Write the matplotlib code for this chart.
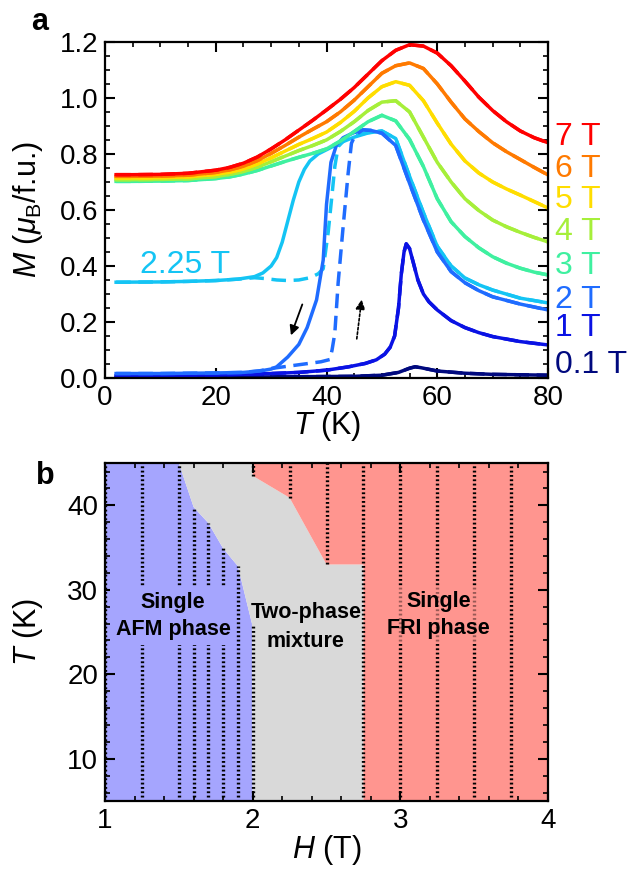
import numpy as np
import matplotlib
matplotlib.use('Agg')
import matplotlib.pyplot as plt

plt.rcParams['font.family'] = 'Liberation Sans'
plt.rcParams['mathtext.fontset'] = 'custom'
plt.rcParams['mathtext.rm'] = 'Liberation Sans'
plt.rcParams['mathtext.it'] = 'Liberation Sans:italic'
plt.rcParams['mathtext.bf'] = 'Liberation Sans:bold'

# ---- panel a: M(T) at fixed fields (solid / dashed branches) ----
T_hi = [2, 5, 10, 15, 20, 22.5, 25, 27.5, 30, 32.5, 35, 37.5, 40, 42.5, 45, 47.5, 50, 52.5, 55, 57.5,
        60, 62.5, 65, 67.5, 70, 72.5, 75, 77.5, 80]
M_7T = [0.726, 0.726, 0.727, 0.731, 0.742, 0.752, 0.767, 0.789, 0.818, 0.850, 0.885, 0.920, 0.957, 0.995,
        1.037, 1.085, 1.133, 1.170, 1.190, 1.185, 1.160, 1.115, 1.060, 1.003, 0.955, 0.915, 0.882, 0.858, 0.840]
M_6T = [0.720, 0.720, 0.721, 0.724, 0.734, 0.743, 0.756, 0.776, 0.802, 0.830, 0.860, 0.888, 0.915, 0.950,
        0.992, 1.040, 1.088, 1.115, 1.125, 1.105, 1.050, 0.985, 0.925, 0.880, 0.840, 0.808, 0.780, 0.752, 0.725]
M_5T = [0.714, 0.714, 0.715, 0.718, 0.727, 0.735, 0.746, 0.764, 0.786, 0.810, 0.834, 0.855, 0.878, 0.912,
        0.952, 1.000, 1.040, 1.058, 1.045, 0.990, 0.910, 0.835, 0.775, 0.732, 0.700, 0.675, 0.653, 0.630, 0.607]
M_4T = [0.708, 0.708, 0.709, 0.711, 0.719, 0.727, 0.737, 0.753, 0.772, 0.792, 0.812, 0.830, 0.850, 0.880,
        0.915, 0.955, 0.985, 0.990, 0.950, 0.860, 0.770, 0.700, 0.640, 0.598, 0.564, 0.540, 0.520, 0.502, 0.486]
M_3T = [0.702, 0.702, 0.703, 0.705, 0.712, 0.718, 0.728, 0.741, 0.757, 0.773, 0.788, 0.802, 0.818, 0.846,
        0.880, 0.915, 0.938, 0.918, 0.852, 0.755, 0.640, 0.558, 0.505, 0.465, 0.433, 0.410, 0.392, 0.378, 0.368]

T_225s = [2, 10, 15, 20, 24, 27, 28.5, 30, 31, 32, 33, 34, 35, 36, 37, 38.5, 40, 42.5, 45, 47.5, 50, 52.5,
          55, 57.5, 60, 62.5, 65, 67.5, 70, 75, 80]
M_225s = [0.342, 0.343, 0.345, 0.348, 0.353, 0.362, 0.375, 0.400, 0.430, 0.485, 0.560, 0.635, 0.700, 0.745,
          0.775, 0.800, 0.815, 0.840, 0.860, 0.875, 0.882, 0.855, 0.720, 0.590, 0.470, 0.400, 0.357, 0.333,
          0.314, 0.285, 0.268]
T_225d = [2, 10, 15, 20, 24, 27, 29, 31, 33, 35, 37, 38.5, 39.4, 40.3, 40.9, 41.5, 42.1, 43.5, 45, 47.5, 50,
          52.5, 55, 57.5, 60, 62.5, 65, 67.5, 70, 75, 80]
M_225d = [0.342, 0.343, 0.345, 0.348, 0.353, 0.358, 0.355, 0.350, 0.348, 0.350, 0.358, 0.372, 0.390, 0.520,
          0.636, 0.755, 0.826, 0.855, 0.865, 0.876, 0.882, 0.855, 0.720, 0.590, 0.470, 0.400, 0.357, 0.333,
          0.314, 0.285, 0.268]

T_2s = [2, 10, 20, 25, 28, 30, 31, 33, 35, 36.5, 38.2, 39.4, 40.0, 40.8, 41.8, 43, 44.8, 46.6, 48, 50, 52.5,
        55, 57.5, 60, 62.5, 65, 67.5, 70, 75, 80]
M_2s = [0.016, 0.016, 0.018, 0.020, 0.025, 0.032, 0.040, 0.075, 0.120, 0.180, 0.279, 0.421, 0.620, 0.770,
        0.832, 0.858, 0.875, 0.886, 0.884, 0.874, 0.830, 0.695, 0.564, 0.450, 0.380, 0.340, 0.312, 0.290,
        0.264, 0.243]
T_2d = [2, 10, 20, 25, 28, 30, 33, 36, 39, 40.6, 41.0, 41.5, 42.1, 43.0, 43.9, 44.5, 45.2, 46.6, 48, 50, 52.5,
        55, 57.5, 60, 62.5, 65, 67.5, 70, 75, 80]
M_2d = [0.016, 0.016, 0.018, 0.020, 0.026, 0.034, 0.042, 0.050, 0.058, 0.066, 0.100, 0.160, 0.340, 0.540,
        0.730, 0.838, 0.868, 0.886, 0.884, 0.874, 0.830, 0.695, 0.564, 0.450, 0.380, 0.340, 0.312, 0.290,
        0.264, 0.243]

T_1T = [2, 10, 20, 30, 35, 40, 44, 47, 49, 50.5, 51.5, 52.3, 53.0, 53.5, 54.0, 54.4, 55.0, 55.7, 56.5, 57.5,
        58.5, 60, 62.5, 65, 67.5, 70, 75, 80]
M_1T = [0.008, 0.009, 0.011, 0.016, 0.020, 0.028, 0.040, 0.052, 0.065, 0.085, 0.110, 0.150, 0.250, 0.370,
        0.450, 0.479, 0.462, 0.410, 0.350, 0.300, 0.272, 0.243, 0.205, 0.180, 0.162, 0.148, 0.130, 0.118]

T_01T = [2, 30, 45, 50, 53, 55, 56, 57, 60, 65, 70, 80]
M_01T = [0.003, 0.004, 0.006, 0.010, 0.020, 0.035, 0.040, 0.037, 0.025, 0.017, 0.013, 0.010]

field_labels = ['7 T', '6 T', '5 T', '4 T', '3 T', '2 T', '1 T', '0.1 T']
label_M = [0.86, 0.745, 0.635, 0.52, 0.40, 0.28, 0.18, 0.047]
c7, c6, c5, c4, c3 = '#ff0000', '#ff7a00', '#ffdd00', '#a6ef3a', '#3ff0a0'
c225, c2, c1, c01 = '#14c4f4', '#1f6cff', '#0a12e4', '#00097e'
label_colors = [c7, c6, c5, c4, c3, c2, c1, c01]

# ---- panel b: H-T phase diagram ----
afm_H = [1.5, 1.6, 1.7, 1.8, 1.9, 1.995, 2.0]
afm_T = [45, 39.8, 37.9, 34.9, 32.8, 26.0, 5]
fri_H = [2.0, 2.0, 2.25, 2.5, 2.75, 2.75]
fri_T = [45, 43.5, 40.9, 33.0, 33.0, 5]
meas_H = [1.0, 1.25, 1.5, 1.6, 1.7, 1.8, 1.9, 2.0, 2.0, 2.25, 2.5, 2.75, 3.0, 3.25, 3.5, 3.75]
meas_Tlo = [5.5, 5.5, 5.5, 5.5, 5.5, 5.5, 5.5, 5.5, 43.5, 40.9, 33.0, 5.5, 5.5, 5.5, 5.5, 5.5]
meas_Thi = [45, 45, 45, 39.8, 37.9, 34.9, 32.8, 26.0, 45, 45, 45, 45, 45, 45, 45, 45]
col_afm, col_mix, col_fri = '#a5a5fe', '#d9d9d9', '#ff958f'

fig = plt.figure(figsize=(6.35, 8.73), dpi=100)
ax1 = fig.add_axes([0.1654, 0.567, 0.6976, 0.385])
ax2 = fig.add_axes([0.1654, 0.0825, 0.6976, 0.387])

lw = 2.5
dash = (0, (4.2, 2.2))
ax1.plot(T_01T, M_01T, color=c01, lw=lw)
ax1.plot(T_01T, M_01T, color=c01, lw=lw, ls=dash)
ax1.plot(T_1T, M_1T, color=c1, lw=lw)
ax1.plot(T_1T, M_1T, color=c1, lw=lw, ls=dash)
ax1.plot(T_225s, M_225s, color=c225, lw=lw)
ax1.plot(T_225d, M_225d, color=c225, lw=lw, ls=dash)
ax1.plot(T_2s, M_2s, color=c2, lw=lw)
ax1.plot(T_2d, M_2d, color=c2, lw=lw, ls=dash)
for M, c in zip([M_3T, M_4T, M_5T, M_6T, M_7T], [c3, c4, c5, c6, c7]):
    ax1.plot(T_hi, M, color=c, lw=lw)
    ax1.plot(T_hi, M, color=c, lw=lw, ls=dash)

ax1.annotate('', xy=(33.4, 0.143), xytext=(35.8, 0.272),
             arrowprops=dict(arrowstyle='-|>', color='k', lw=1.3, mutation_scale=14))
ax1.annotate('', xy=(46.4, 0.290), xytext=(45.4, 0.130),
             arrowprops=dict(arrowstyle='-|>', color='k', lw=1.2, ls=(0, (1.5, 1.2)), mutation_scale=14))

ax1.text(6.3, 0.375, '2.25 T', color=c225, fontsize=23, va='baseline')
for s, m, c in zip(field_labels, label_M, label_colors):
    ax1.text(81.2, m, s, color=c, fontsize=23, va='center', ha='left', clip_on=False)

ax1.set_xlim(0, 80)
ax1.set_ylim(0, 1.2)
ax1.set_xticks([0, 20, 40, 60, 80])
ax1.set_xticks(np.arange(0, 81, 5), minor=True)
ax1.set_yticks([0.0, 0.2, 0.4, 0.6, 0.8, 1.0, 1.2])
ax1.set_yticklabels(['0.0', '0.2', '0.4', '0.6', '0.8', '1.0', '1.2'])
ax1.set_yticks(np.arange(0, 1.21, 0.05), minor=True)
ax1.set_xlabel(r'$T$ (K)', fontsize=22)
ax1.set_ylabel(r'$M$ ($\mu_\mathrm{B}$/f.u.)', fontsize=22)
ax1.xaxis.set_label_coords(0.5, -0.092)
ax1.yaxis.set_label_coords(-0.135, 0.5)

# phase regions
ax2.fill([1] + afm_H + [1], [45] + afm_T + [5], color=col_afm, lw=0)
ax2.fill(afm_H[::-1] + fri_H, afm_T[::-1] + fri_T, color=col_mix, lw=0)
ax2.fill(fri_H + [4, 4], fri_T + [5, 45], color=col_fri, lw=0)
ax2.vlines(meas_H, meas_Tlo, meas_Thi, colors='k', lw=2.4, linestyles=(0, (0.55, 0.75)))

tk = dict(fontsize=15.5, fontweight='bold', ha='center', va='center')
ax2.text(1.46, 26.9, 'Single\nAFM phase', linespacing=1.35,
         bbox=dict(boxstyle='square,pad=0.25', fc=col_afm, ec='none'), **tk)
ax2.text(2.36, 25.6, 'Two-phase\nmixture', linespacing=1.55, **tk)
ax2.text(3.26, 27.0, 'Single\nFRI phase', linespacing=1.35,
         bbox=dict(boxstyle='square,pad=0.25', fc=col_fri, ec='none', alpha=0.6), **tk)

ax2.set_xlim(1, 4)
ax2.set_ylim(5, 45)
ax2.set_xticks([1, 2, 3, 4])
ax2.set_xticks(np.arange(1, 4.01, 0.2), minor=True)
ax2.set_yticks([10, 20, 30, 40])
ax2.set_yticks(np.arange(6, 45, 2), minor=True)
ax2.set_xlabel(r'$H$ (T)', fontsize=22)
ax2.set_ylabel(r'$T$ (K)', fontsize=22)
ax2.xaxis.set_label_coords(0.5, -0.095)
ax2.yaxis.set_label_coords(-0.135, 0.5)

for ax in (ax1, ax2):
    ax.tick_params(which='both', direction='in', top=True, right=True, labelsize=20, pad=5)
    ax.tick_params(which='major', length=7, width=1.5)
    ax.tick_params(which='minor', length=3.5, width=1.2)
    for sp in ax.spines.values():
        sp.set_linewidth(1.6)
        sp.set_zorder(5)

fig.text(0.062, 0.975, 'a', fontsize=22, fontweight='bold', ha='center', va='center')
fig.text(0.072, 0.455, 'b', fontsize=22, fontweight='bold', ha='center', va='center')

fig.savefig('out.png', dpi=100)
